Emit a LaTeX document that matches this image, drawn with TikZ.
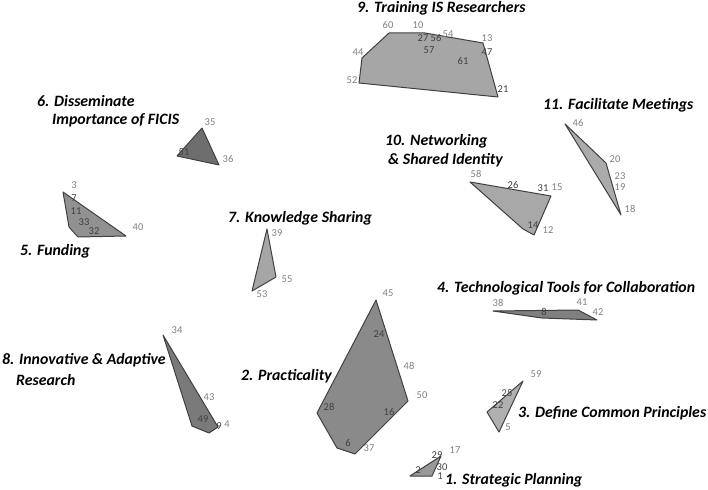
\documentclass[tikz,border=0pt]{standalone}
\usepackage{fontspec}
\setmainfont{Carlito}
\usetikzlibrary{positioning}

\begin{document}
\begin{tikzpicture}[
    x=1pt, y=-1pt,
    clus/.style  = {draw=black!75, line width=1pt, line join=round},
    title/.style = {font=\fontsize{15.8}{18}\selectfont\bfseries\itshape,
                    anchor=west, inner sep=0pt, align=left},
    num/.style   = {font=\fontsize{10.5}{11}\selectfont, text=black!50, inner sep=0pt},
    numin/.style = {num, text=black!75}
  ]

  \useasboundingbox (0,0) rectangle (708,489);

  % clusters
  \draw[clus, fill=black!35] (389,33) -- (425,33) -- (483,43) -- (498,97) -- (359,83) -- (362,58) -- cycle;
  \draw[clus, fill=black!57] (202,128) -- (219,165) -- (177,156) -- cycle;
  \draw[clus, fill=black!43] (63,192) -- (126,236) -- (78,237) -- (69,227) -- cycle;
  \draw[clus, fill=black!35] (267,229) -- (276,277) -- (252,291) -- cycle;
  \draw[clus, fill=black!34] (470,182) -- (551,196) -- (534,235) -- (523,229) -- cycle;
  \draw[clus, fill=black!33] (565,124) -- (606,163) -- (621,215) -- cycle;
  \draw[clus, fill=black!50] (493,311) -- (578,310) -- (597,320) -- (542,318) -- cycle;
  \draw[clus, fill=black!52] (163,335) -- (218,427) -- (209,433) -- (192,426) -- cycle;
  \draw[clus, fill=black!46] (376,300) -- (408,401) -- (355,454) -- (337,448) -- (317,413) -- cycle;
  \draw[clus, fill=black!31] (523,381) -- (499,432) -- (487,412) -- cycle;
  \draw[clus, fill=black!40] (441,456) -- (432,476) -- (410,476) -- cycle;

  % titles
  \node[title] (t9)  at (357,8)   {9. Training IS Researchers};
  \node[title] (t6)  at (37,101)  {6. Disseminate};
  \node[title] (t6b) at (52,120)  {Importance of FICIS};
  \node[title] (t5)  at (20,251)  {5. Funding};
  \node[title] (t7)  at (228,218) {7. Knowledge Sharing};
  \node[title] (t10) at (385,141) {10. Networking};
  \node[title] (t10b) at (388,160) {\& Shared Identity};
  \node[title] (t11) at (543,105) {11. Facilitate Meetings};
  \node[title] (t4)  at (437,288) {4. Technological Tools for Collaboration};
  \node[title] (t8)  at (2,360)   {8. Innovative \& Adaptive};
  \node[title] (t8b) at (16,380)  {Research};
  \node[title] (t2)  at (241,376) {2. Practicality};
  \node[title] (t3)  at (518,413) {3. Define Common Principles};
  \node[title] (t1)  at (445,480) {1. Strategic Planning};

  % statement numbers outside
  \foreach \px/\py/\t in {388/25/60, 418/25/10, 448/34/54, 487/38/13, 358/52/44, 352/80/52,
      210/122/35, 228/159/36, 74/185/3, 138/227/40, 277/233/39, 287/279/55, 262/294/53,
      476/174/58, 557/187/15, 548/230/12, 578/123/46, 615/159/20, 620/176/23, 620/187/19,
      630/209/18, 498/303/38, 582/302/41, 598/312/42, 177/330/34, 209/397/43, 227/424/4,
      388/293/45, 409/366/48, 422/395/50, 369/448/37, 536/374/59, 508/427/5, 455/450/17}
    \node[num] at (\px,\py) {\t};

  % statement numbers inside
  \foreach \px/\py/\t in {423/38/27, 436/38/56, 429/50/57, 463/61/61, 487/52/47, 503/89/21,
      184/152/51, 74/198/7, 76/211/11, 84/222/33, 94/231/32, 513/185/26, 543/188/31,
      533/225/14, 544/312/8, 203/419/49, 219/426/9, 379/334/24, 329/407/28, 389/412/16,
      348/443/6, 507/393/25, 498/405/22, 437/455/29, 442/467/30, 440/476/1, 418/470/2}
    \node[numin] at (\px,\py) {\t};

\end{tikzpicture}
\end{document}
